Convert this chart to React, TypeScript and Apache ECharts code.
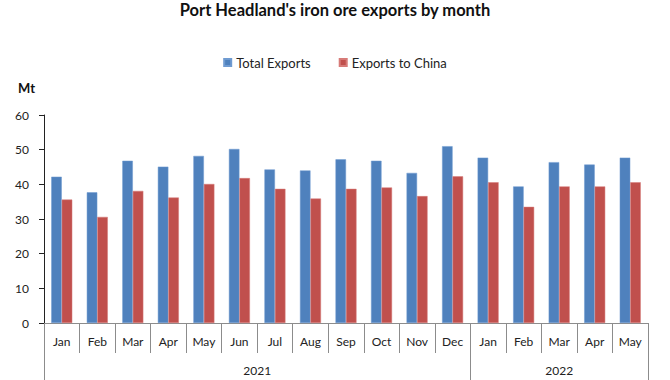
import React, { useEffect, useRef } from "react";
import * as echarts from "echarts";

const months = ["Jan", "Feb", "Mar", "Apr", "May", "Jun", "Jul", "Aug", "Sep", "Oct", "Nov", "Dec", "Jan", "Feb", "Mar", "Apr", "May"];
const totalExports = [42.2, 37.7, 46.8, 45.1, 48.2, 50.2, 44.3, 44.0, 47.2, 46.8, 43.3, 51.0, 47.7, 39.4, 46.4, 45.7, 47.7];
const exportsToChina = [35.6, 30.6, 38.1, 36.2, 40.1, 41.8, 38.7, 35.9, 38.7, 39.1, 36.6, 42.3, 40.6, 33.5, 39.4, 39.4, 40.6];
const years = ["2021", "2022"];
const yearMonthCounts = [12, 5];
const yTicks = { min: 0, max: 60, interval: 10 };

const FONT = "Lato";

// Year row is drawn on a half-month category axis (boundaryGap false),
// built from the years and their month counts.
const totalMonths = yearMonthCounts.reduce((a, b) => a + b, 0);
const halfSlots: string[] = [];
for (let i = 0; i <= totalMonths * 2; i++) halfSlots.push("");
const yearTickIdx: Record<number, boolean> = { 0: true };
{
  let start = 0;
  years.forEach((y, i) => {
    const n = yearMonthCounts[i];
    halfSlots[2 * start + n] = y;
    start += n;
    yearTickIdx[2 * start] = true;
  });
}

export default function App() {
  const ref = useRef<HTMLDivElement>(null);
  useEffect(() => {
    if (!ref.current) return;
    const chart = echarts.init(ref.current, undefined, { renderer: "svg" });
    chart.setOption({
      animation: false,
      backgroundColor: "#ffffff",
      textStyle: { fontFamily: FONT },
      title: {
        text: "Port Headland's iron ore exports by month",
        left: "center",
        top: 1,
        padding: 0,
        textStyle: { fontFamily: FONT, fontWeight: "bold", fontSize: 16.5, color: "#111" },
      },
      legend: {
        left: "center",
        top: 51,
        itemWidth: 7,
        itemHeight: 7,
        itemGap: 28,
        icon: "rect",
        textStyle: { fontFamily: FONT, fontSize: 13, color: "#222" },
        data: ["Total Exports", "Exports to China"],
      },
      grid: { left: 44, right: 22, top: 115, bottom: 57, containLabel: false },
      xAxis: [
        {
          type: "category",
          data: months,
          position: "bottom",
          axisLine: { show: true, lineStyle: { color: "#8c8c8c", width: 1 } },
          axisTick: { show: true, interval: 0, length: 30, lineStyle: { color: "#8c8c8c" } },
          axisLabel: { interval: 0, margin: 12, fontSize: 12, color: "#222", fontFamily: FONT },
          splitLine: { show: false },
        },
        {
          type: "category",
          data: halfSlots,
          position: "bottom",
          offset: 30,
          boundaryGap: false,
          axisLine: { show: false },
          axisTick: {
            show: true,
            length: 30,
            interval: (idx: number) => !!yearTickIdx[idx],
            lineStyle: { color: "#8c8c8c" },
          },
          axisLabel: {
            interval: (idx: number, v: string) => v !== "",
            margin: 11,
            fontSize: 12,
            color: "#222",
            fontFamily: FONT,
          },
          splitLine: { show: false },
        },
      ],
      yAxis: {
        type: "value",
        min: yTicks.min,
        max: yTicks.max,
        interval: yTicks.interval,
        name: "Mt",
        nameLocation: "end",
        nameGap: 21,
        nameTextStyle: { fontFamily: FONT, fontWeight: "bold", fontSize: 13, color: "#111", align: "right", padding: [0, 9, 0, 0] },
        axisLine: { show: true, lineStyle: { color: "#222", width: 1 } },
        axisTick: { show: true, length: 5, lineStyle: { color: "#222" } },
        axisLabel: { margin: 15, fontSize: 12, color: "#222", fontFamily: FONT },
        splitLine: { show: false },
      },
      series: [
        {
          name: "Total Exports",
          type: "bar",
          data: totalExports,
          barWidth: 10.5,
          barGap: "0%",
          itemStyle: { color: "#4F81BD", borderColor: "#6f9bd1", borderWidth: 0.5 },
        },
        {
          name: "Exports to China",
          type: "bar",
          data: exportsToChina,
          barWidth: 10.5,
          barGap: "0%",
          itemStyle: { color: "#C0504D", borderColor: "#d77b78", borderWidth: 0.5 },
        },
      ],
    });
    return () => chart.dispose();
  }, []);
  return <div ref={ref} style={{ position: "fixed", left: 0, top: 0, width: 670, height: 380 }} />;
}
